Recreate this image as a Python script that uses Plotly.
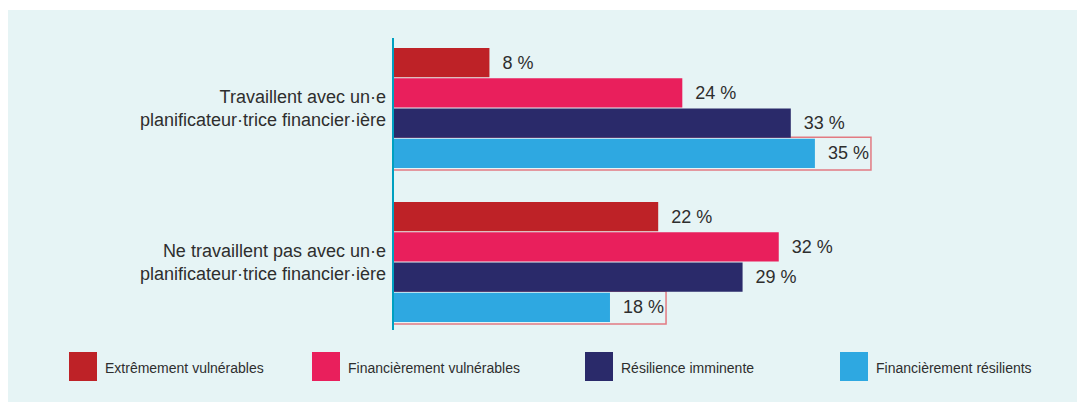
import plotly.graph_objects as go

# ---- data ----
categories = [
    "Travaillent avec un·e<br>planificateur·trice financier·ière",
    "Ne travaillent pas avec un·e<br>planificateur·trice financier·ière",
]
series_names = [
    "Extrêmement vulnérables",
    "Financièrement vulnérables",
    "Résilience imminente",
    "Financièrement résilients",
]
extremement_vulnerables = [8, 22]
financierement_vulnerables = [24, 32]
resilience_imminente = [33, 29]
financierement_resilients = [35, 18]
series_values = [extremement_vulnerables, financierement_vulnerables,
                 resilience_imminente, financierement_resilients]
colors = ["#be2227", "#e91f5c", "#2a2a6a", "#2ea8e1"]

# ---- layout constants ----
W, H = 1077, 402
L, R, T, B = 393, 21, 31, 63
XMAX = 55
BARGAP = 0.214
GROUPGAP = 0.03
TEXT = "#2e2e2e"
FONT = "Liberation Sans, Arial, Helvetica, sans-serif"
PW, PH = W - L - R, H - T - B


def px(x):
    return (x - L) / PW


def py(y):
    return (H - B - y) / PH


fig = go.Figure()
for name, vals, col in zip(series_names, series_values, colors):
    fig.add_trace(go.Bar(
        y=categories, x=vals, name=name, orientation="h",
        marker=dict(color=col, line=dict(width=0)),
        text=[f"\u00a0\u00a0{v} %" for v in vals],
        textposition="outside",
        textfont=dict(size=18, color=TEXT, family=FONT),
        cliponaxis=False,
        showlegend=False,
    ))

shapes = []
# background panel
shapes.append(dict(type="rect", xref="paper", yref="paper", layer="below",
                   x0=px(8), x1=px(W + 2), y0=py(10), y1=py(H + 2),
                   fillcolor="#e6f4f5", line=dict(width=0)))
# axis line
shapes.append(dict(type="line", xref="paper", yref="paper",
                   x0=px(393), x1=px(393), y0=py(38), y1=py(330),
                   line=dict(color="#00a0c0", width=2)))
# highlight boxes around the last series
gw = 1 - BARGAP
slot = gw / len(series_names)
for i, v in enumerate(financierement_resilients):
    y0 = i - gw / 2 + 3 * slot - 1.0 / 154
    y1 = i + gw / 2 + 1.5 / 154
    shapes.append(dict(type="rect", xref="x", yref="y", layer="below",
                       x0=0, x1=v + 4.65, y0=y0, y1=y1,
                       line=dict(color="#e27a82", width=1.5),
                       fillcolor="rgba(0,0,0,0)"))

# legend (manual, large squares)
annotations = []
leg_sq_x = [69, 312, 585, 840]
for name, col, sx in zip(series_names, colors, leg_sq_x):
    shapes.append(dict(type="rect", xref="paper", yref="paper",
                       x0=px(sx), x1=px(sx + 28), y0=py(352), y1=py(381),
                       fillcolor=col, line=dict(width=0)))
    annotations.append(dict(xref="paper", yref="paper", x=px(sx + 34), y=py(368),
                            text=name, showarrow=False, xanchor="left",
                            yanchor="middle",
                            font=dict(size=14, color=TEXT, family=FONT)))

fig.update_layout(
    width=W, height=H,
    margin=dict(l=L, r=R, t=T, b=B, pad=0),
    paper_bgcolor="white",
    plot_bgcolor="rgba(0,0,0,0)",
    barmode="group",
    bargap=BARGAP,
    bargroupgap=GROUPGAP,
    font=dict(family=FONT, color=TEXT),
    shapes=shapes,
    annotations=annotations,
    xaxis=dict(range=[0, XMAX], visible=False, showgrid=False, zeroline=False),
    yaxis=dict(type="category", autorange="reversed", showgrid=False,
               showline=False, zeroline=False, ticks="",
               ticklabelstandoff=6,
               tickfont=dict(size=18, color=TEXT, family=FONT)),
    uniformtext=dict(mode=False),
)

fig.write_html("out.html")
